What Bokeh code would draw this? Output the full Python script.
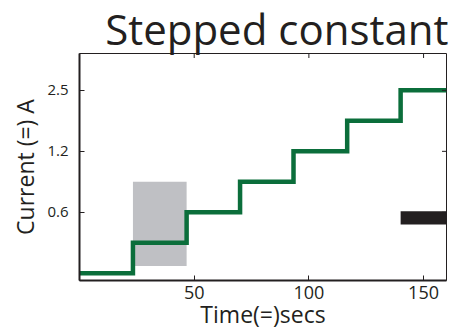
from bokeh.plotting import figure
from bokeh.models import FixedTicker, Range1d
from bokeh.embed import file_html
from bokeh.resources import INLINE
import math

# Data
step_edges = [0, 23.3, 46.7, 70, 93.3, 116.7, 140, 160]
step_levels = [0.3125, 0.442, 0.625, 0.884, 1.25, 1.77, 2.5]
x_ticks = [50, 100, 150]
y_ticks = [0.625, 1.25, 2.5]
y_tick_labels = ["0.6", "1.2", "2.5"]
box_x = [23.3, 46.7]
box_y = [0.34, 0.884]
bar_x = [140, 160]
bar_y = [0.545, 0.632]

X_MIN, X_MAX = 0, 160
Y_MIN, Y_MAX = 0.288, 3.8

FONT = "Open Sans"
DARK = "#231f20"

p = figure(width=450, height=332, output_backend="svg", toolbar_location=None,
           y_axis_type="log", x_range=Range1d(X_MIN, X_MAX), y_range=Range1d(Y_MIN, Y_MAX),
           min_border_left=79, min_border_right=4, min_border_bottom=52, min_border_top=0)

p.title.text = "Stepped constant"
p.title.align = "right"
p.title.text_font = FONT
p.title.text_font_style = "normal"
p.title.text_font_size = "42px"
p.title.text_color = DARK
p.title.standoff = -6
p.title.offset = -2

p.grid.visible = False
p.outline_line_color = DARK
p.outline_line_width = 1

# gray box and black bar
p.quad(left=[box_x[0]], right=[box_x[1]], bottom=[box_y[0]], top=[box_y[1]],
       fill_color="#bfc0c4", line_color=None)
p.quad(left=[bar_x[0]], right=[bar_x[1]], bottom=[bar_y[0]], top=[bar_y[1]],
       fill_color=DARK, line_color=None)

# stepped line
xs, ys = [], []
for i, lv in enumerate(step_levels):
    xs += [step_edges[i], step_edges[i + 1]]
    ys += [lv, lv]
p.line(xs, ys, line_color="#0b6e3b", line_width=4.5, line_join="miter")

# inward ticks on top and right edges (half of each dash is clipped by the frame)
p.scatter(x=x_ticks, y=[Y_MAX] * len(x_ticks), marker="dash", size=9, angle=math.pi / 2,
          line_color=DARK, line_width=1)
p.scatter(x=[X_MAX] * len(y_ticks), y=y_ticks, marker="dash", size=9,
          line_color=DARK, line_width=1)

for ax in (p.xaxis[0], p.yaxis[0]):
    ax.axis_line_color = DARK
    ax.axis_line_width = 2
    ax.major_tick_in = 5
    ax.major_tick_out = 0
    ax.minor_tick_line_color = None
    ax.major_tick_line_color = DARK
    ax.major_label_text_font = FONT
    ax.major_label_text_color = DARK
    ax.axis_label_text_font = FONT
    ax.axis_label_text_font_style = "normal"
    ax.axis_label_text_color = DARK

p.xaxis.ticker = FixedTicker(ticks=x_ticks)
p.xaxis.major_label_text_font_size = "18px"
p.xaxis.axis_label = "Time(=)secs"
p.xaxis.axis_label_text_font_size = "23px"
p.xaxis.axis_label_standoff = -4
p.xaxis.major_label_standoff = 5

p.yaxis.ticker = FixedTicker(ticks=y_ticks)
p.yaxis.major_label_overrides = {t: l for t, l in zip(y_ticks, y_tick_labels)}
p.yaxis.major_label_text_font_size = "15px"
p.yaxis.axis_label = "Current (=) A"
p.yaxis.axis_label_text_font_size = "23px"
p.yaxis.axis_label_standoff = 3
p.yaxis.major_label_standoff = 11

open("out.html", "w").write(file_html(p, INLINE))
